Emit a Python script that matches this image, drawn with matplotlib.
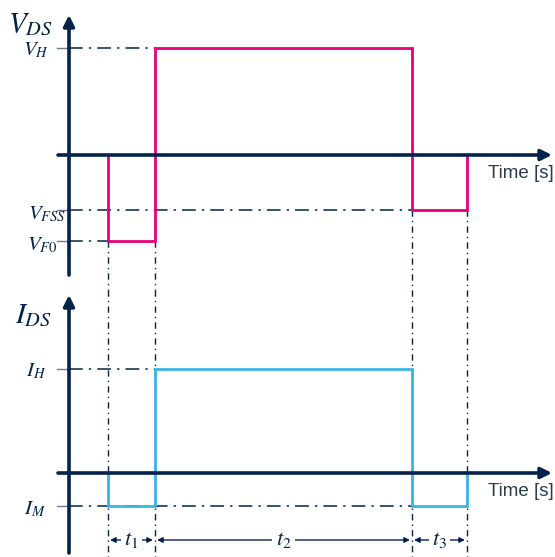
import matplotlib
matplotlib.use("Agg")
import matplotlib.pyplot as plt

plt.rcParams['mathtext.fontset'] = 'stix'

# ---- data (arbitrary schematic units) ----
t_events = [0.39, 0.86, 3.43, 3.98]          # switching instants
v_levels = {"VH": 1.07, "VFSS": -0.55, "VF0": -0.86}
i_levels = {"IH": 1.04, "IM": -0.33}
interval_labels = [r"$t_1$", r"$t_2$", r"$t_3$"]

NAVY = "#03234B"
PINK = "#E6007E"
BLUE = "#3CB4E6"
TXT = "#2b3a4f"

W, H = 555, 557
fig = plt.figure(figsize=(W / 100, H / 100), dpi=100)
ax_v = fig.add_axes([0, 1 - 290 / H, 1, 290 / H])
ax_i = fig.add_axes([0, 0, 1, 267 / H])
for a in (ax_v, ax_i):
    a.set_axis_off()
    a.set_xlim(-0.69, 4.86)
ax_v.set_ylim(-1.35, 1.55)
ax_i.set_ylim(-0.84, 1.83)

t0, t1, t2, t3 = t_events
VH, VFSS, VF0 = v_levels["VH"], v_levels["VFSS"], v_levels["VF0"]
IH, IM = i_levels["IH"], i_levels["IM"]

# waveforms
vx = [t0, t0, t1, t1, t2, t2, t3, t3]
vy = [0, VF0, VF0, VH, VH, VFSS, VFSS, 0]
ix = [t0, t0, t1, t1, t2, t2, t3, t3]
iy = [0, IM, IM, IH, IH, IM, IM, 0]

dashdot = (0, (9, 4, 1.5, 4))
vdash = (0, (4.5, 3, 1, 3))
ref_kw = dict(color=NAVY, lw=1.1, linestyle=dashdot, zorder=1)
vref_kw = dict(color=NAVY, lw=1.0, linestyle=vdash, zorder=1)

def axes_arrows(a, ybot, ytop):
    a.annotate("", xy=(0, ytop), xytext=(0, ybot),
               arrowprops=dict(arrowstyle="-|>", lw=2.6, color=NAVY,
                               mutation_scale=16, shrinkA=0, shrinkB=0), zorder=5)
    a.annotate("", xy=(4.83, 0), xytext=(-0.11, 0),
               arrowprops=dict(arrowstyle="-|>", lw=2.6, color=NAVY,
                               mutation_scale=16, shrinkA=0, shrinkB=0), zorder=5)
    a.text(4.19, -0.19, "Time [s]", fontsize=13.5, color=TXT,
           family="Liberation Sans", ha="left", va="center")

# ---- top panel: V_DS ----
ax_v.plot(vx, vy, color=PINK, lw=2.0, zorder=3, solid_joinstyle="miter")
ax_v.plot([0, t1], [VH, VH], **ref_kw)
ax_v.plot([0, t2], [VFSS, VFSS], **ref_kw)
ax_v.plot([0, t0], [VF0, VF0], **ref_kw)
for x, y0 in zip(t_events, [VF0, VF0, VFSS, VFSS]):
    ax_v.plot([x, x], [y0, -1.35], clip_on=False, **vref_kw)
for y in (VH, VFSS, VF0):
    ax_v.plot([-0.12, 0], [y, y], color="#6b7a8c", lw=1.0, zorder=2)
axes_arrows(ax_v, -1.20, 1.40)
ax_v.text(-0.39, 1.31, r"$V_{DS}$", fontsize=21, color=NAVY, ha="center", va="center")
ax_v.text(-0.20, 1.05, r"$V_H$", fontsize=15, color=NAVY, ha="right", va="center")
ax_v.text(-0.03, -0.59, r"$V_{FSS}$", fontsize=15, color=NAVY, ha="right", va="center")
ax_v.text(-0.11, -0.90, r"$V_{F0}$", fontsize=15, color=NAVY, ha="right", va="center")

# ---- bottom panel: I_DS ----
ax_i.plot(ix, iy, color=BLUE, lw=2.0, zorder=3, solid_joinstyle="miter")
ax_i.plot([0, t1], [IH, IH], **ref_kw)
ax_i.plot([0, t2], [IM, IM], **ref_kw)
for x in t_events:
    ax_i.plot([x, x], [1.83, -0.84], clip_on=False, **vref_kw)
for y in (IH, IM):
    ax_i.plot([-0.12, 0], [y, y], color="#6b7a8c", lw=1.0, zorder=2)
axes_arrows(ax_i, -0.80, 1.78)
ax_i.text(-0.36, 1.58, r"$I_{DS}$", fontsize=21, color=NAVY, ha="center", va="center")
ax_i.text(-0.23, 1.02, r"$I_H$", fontsize=15, color=NAVY, ha="right", va="center")
ax_i.text(-0.23, -0.36, r"$I_M$", fontsize=15, color=NAVY, ha="right", va="center")

# interval arrows
ya = -0.67
bounds = list(zip(t_events[:-1], t_events[1:]))
for (xa, xb), lab in zip(bounds, interval_labels):
    ax_i.annotate("", xy=(xb, ya), xytext=(xa, ya),
                  arrowprops=dict(arrowstyle="<|-|>", lw=1.0, color=NAVY,
                                  mutation_scale=8, shrinkA=1.5, shrinkB=1.5), zorder=4)
    ax_i.text((xa + xb) / 2, ya, lab, fontsize=16, color=NAVY, ha="center", va="center",
              zorder=6, bbox=dict(boxstyle="square,pad=0.15", fc="white", ec="none"))

fig.savefig("out.png", dpi=100)
